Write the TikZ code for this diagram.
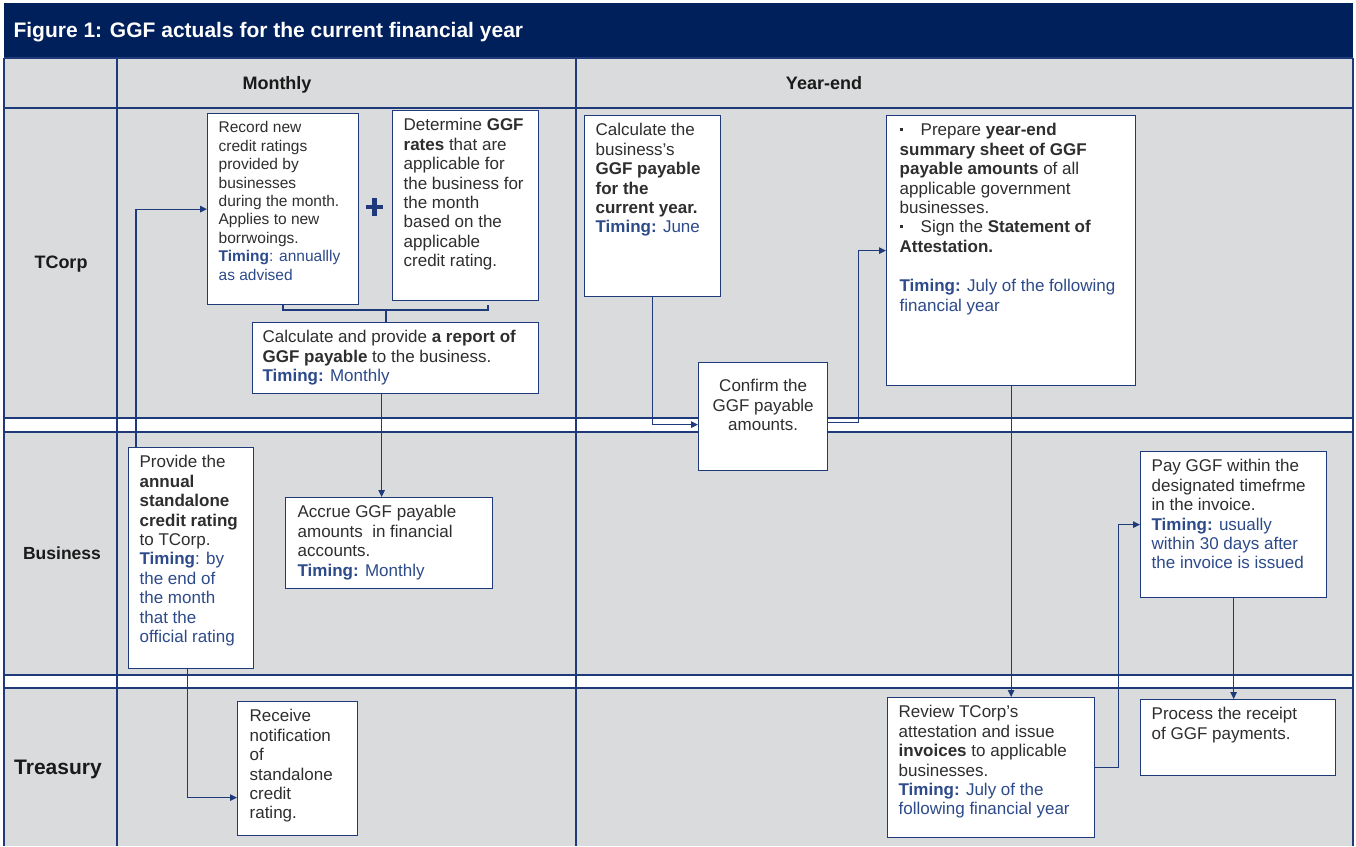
\documentclass[tikz,border=0pt]{standalone}
\usepackage{fontspec}
\setmainfont{Liberation Sans}
\usetikzlibrary{arrows.meta}
\definecolor{lnavy}{HTML}{1F3A7A}
\definecolor{titlebar}{HTML}{00205B}
\definecolor{lanegrey}{HTML}{D9DBDC}
\definecolor{bodytxt}{HTML}{2E2E2E}
\definecolor{tblue}{HTML}{2D4A8A}
\definecolor{lbl}{HTML}{1A1A1A}
\newcommand\fs{\fontsize{17}{19.4}\selectfont}
\newcommand\fss{\fontsize{15.5}{18.4}\selectfont}
\newcommand\bt[3]{\parbox[c][#2][t]{#1}{\vspace*{3pt}\raggedright\fs #3}}
\newcommand\btc[3]{\parbox[c][#2][t]{#1}{\centering\fs #3}}
\newcommand\tmb[1]{\textcolor{tblue}{\textbf{#1}}}
\newcommand\tmr[1]{\textcolor{tblue}{#1}}
\newcommand\bul{\makebox[21pt][l]{\raisebox{0.28em}{\rule{3pt}{3pt}}}}
\begin{document}
\begin{tikzpicture}[x=1pt,y=-1pt,
  grid/.style={draw=lnavy, line width=1.3pt},
  bx/.style={draw=lnavy, fill=white, line width=1.3pt, anchor=north west, inner xsep=#1, inner ysep=5pt, text=bodytxt},
  bx/.default=11pt,
  hdr/.style={font=\bfseries\fontsize{18}{20}\selectfont, text=lbl},
  lane/.style={font=\bfseries\fontsize{18}{20}\selectfont, text=lbl},
  conn/.style={draw=lnavy, line width=1.3pt},
  arr/.style={conn, -{Triangle[length=7pt,width=6.5pt]}}]
\useasboundingbox (0,0) rectangle (1356,846);
\fill[white] (0,0) rectangle (1356,846);
\fill[lanegrey] (4,58) rectangle (1353,846);
\fill[white] (4,418) rectangle (1353,432);
\fill[white] (4,675) rectangle (1353,688);
\fill[titlebar] (4,3) rectangle (1353,58);
\node[anchor=west, text=white, font=\bfseries\fontsize{21}{24}\selectfont] (title) at (10,32) {Figure 1: GGF actuals for the current financial year};
% grid
\draw[grid] (4,58) -- (1353,58);
\draw[grid] (4,108) -- (1353,108);
\draw[grid] (4,418) -- (1353,418);
\draw[grid] (4,432) -- (1353,432);
\draw[grid] (4,675) -- (1353,675);
\draw[grid] (4,688) -- (1353,688);
\draw[grid] (4,58) -- (4,846);
\draw[grid] (1353,58) -- (1353,846);
\draw[grid] (117,58) -- (117,846);
\draw[grid] (576,58) -- (576,846);
% headers
\node[hdr] (hm) at (277,85) {Monthly};
\node[hdr] (hy) at (824,83) {Year-end};
\node[lane] (lt) at (61,264) {TCorp};
\node[lane, font=\bfseries\fontsize{17.5}{20}\selectfont] (lb) at (62,553) {Business};
\node[lane, font=\bfseries\fontsize{21}{24}\selectfont] (ltr) at (58,769) {Treasury};
% boxes
\node[bx] (rec) at (207,113) {\bt{129pt}{181pt}{\fss Record new\\credit ratings\\provided by\\businesses\\during the month.\\Applies to new\\borrwoings.\\\tmb{Timing}\tmr{: annuallly}\\\tmr{as advised}}};
\node[bx] (det) at (392,110) {\bt{124pt}{180pt}{Determine \textbf{GGF}\\\textbf{rates} that are\\applicable for\\the business for\\the month\\based on the\\applicable\\credit rating.}};
\node[bx=10pt] (calc) at (252,322) {\bt{266pt}{61pt}{Calculate and provide \textbf{a report of}\\\textbf{GGF payable} to the business.\\\tmb{Timing:} \tmr{Monthly}}};
\node[bx=12pt] (acc) at (285,497) {\bt{183pt}{81pt}{Accrue GGF payable\\amounts \ in financial\\accounts.\\\tmb{Timing:} \tmr{Monthly}}};
\node[bx] (prov) at (128,447) {\bt{103pt}{211pt}{Provide the\\\textbf{annual}\\\textbf{standalone}\\\textbf{credit rating}\\to TCorp.\\\tmb{Timing}\tmr{: by}\\\tmr{the end of}\\\tmr{the month}\\\tmr{that the}\\\tmr{official rating}}};
\node[bx=12pt] (recv) at (237,701) {\bt{96pt}{124pt}{Receive\\notification\\of\\standalone\\credit\\rating.}};
\node[bx] (calcb) at (584,115) {\bt{114pt}{171pt}{Calculate the\\business's\\\textbf{GGF payable}\\\textbf{for the}\\\textbf{current year.}\\\tmb{Timing:} \tmr{June}}};
\node[bx=6pt] (conf) at (698,362) {\btc{117pt}{98pt}{\vspace*{12pt}Confirm the\\GGF payable\\amounts.}};
\node[bx=13pt] (prep) at (886,115) {\parbox[c][260pt][t]{223pt}{\vspace*{3pt}\raggedright\fs
  \hangindent=21pt\hangafter=1\noindent\bul Prepare \textbf{year-end}\\\textbf{summary sheet of GGF}\\\textbf{payable amounts} of all\\applicable government\\businesses.\par
  \hangindent=21pt\hangafter=1\noindent\bul Sign the \textbf{Statement of}\\\textbf{Attestation.}\par
  \vspace{20pt}\noindent\tmb{Timing:} \tmr{July of the following}\\\tmr{financial year}}};
\node[bx] (rev) at (887,697) {\bt{185pt}{130pt}{Review TCorp's\\attestation and issue\\\textbf{invoices} to applicable\\businesses.\\\tmb{Timing:} \tmr{July of the}\\\tmr{following financial year}}};
\node[bx] (pay) at (1140,451) {\bt{164pt}{136pt}{Pay GGF within the\\designated timefrme\\in the invoice.\\\tmb{Timing:} \tmr{usually}\\\tmr{within 30 days after}\\\tmr{the invoice is issued}}};
\node[bx] (proc) at (1140,699) {\bt{173pt}{66pt}{Process the receipt\\of GGF payments.}};
% plus sign
\draw[lnavy, line width=4.5pt] (366,207) -- (383,207) (374.5,198) -- (374.5,216);
% bracket
\coordinate (bl) at (283,305);
\coordinate (br) at (488,305);
\coordinate (bm) at (386,310);
\draw[conn] (bl) -- ++(0,5) -- ([yshift=-5pt]br) -- (br);
\draw[conn] (bm) -- (bm |- calc.north);
% connectors
\draw[arr] ([xshift=8pt]prov.north west) |- (rec.west);
\coordinate (a2) at ([xshift=-14pt]calc.south);
\draw[arr] (a2) -- (a2 |- acc.north);
\coordinate (a3) at ([xshift=-3.5pt]prov.south);
\draw[arr] (a3) |- ([yshift=-29pt]recv.west);
\draw[arr] (calcb.south) |- ([yshift=-8pt]conf.west);
\draw[arr] ([yshift=-6pt]conf.east) -- ++(30,0) |- (prep.west);
\draw[arr] (prep.south) -- (prep.south |- rev.north);
\draw[arr] (rev.east) -- ++(23,0) |- (pay.west);
\draw[arr] (pay.south) -- (pay.south |- proc.north);
\end{tikzpicture}
\end{document}
